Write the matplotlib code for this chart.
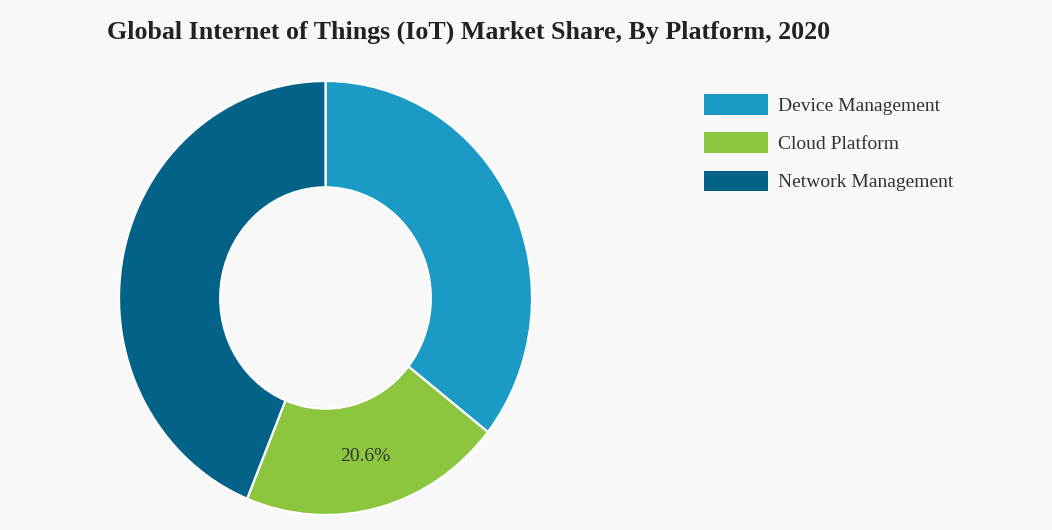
import numpy as np
import matplotlib
matplotlib.use("Agg")
import matplotlib.pyplot as plt

categories = ["Device Management", "Cloud Platform", "Network Management"]
shares = [35.6, 20.6, 43.8]
colors = ["#1a9ac4", "#8cc63f", "#036288"]
shown_labels = [False, True, False]
title = "Global Internet of Things (IoT) Market Share, By Platform, 2020"

W, H = 1052, 530
fig = plt.figure(figsize=(W / 100, H / 100), dpi=100)
fig.patch.set_facecolor("#f8f8f8")

# donut geometry (pixels)
cx, cy = 325.5, 298.0
rx, ry = 206.5, 217.0
m = 1.05
ax = fig.add_axes([(cx - rx * m) / W, (H - cy - ry * m) / H, 2 * rx * m / W, 2 * ry * m / H])
ax.set_facecolor("none")

wedges, _ = ax.pie(shares, colors=colors, startangle=90, counterclock=False,
                   radius=1.0, wedgeprops=dict(width=0.49, edgecolor="white", linewidth=1.6))
ax.set_aspect("auto")
ax.set_xlim(-m, m)
ax.set_ylim(-m, m)
ax.axis("off")

for w, v, show in zip(wedges, shares, shown_labels):
    if not show:
        continue
    ang = np.deg2rad((w.theta1 + w.theta2) / 2)
    r = 0.755
    ax.text(r * np.cos(ang), r * np.sin(ang), f"{v}%", ha="center", va="center",
            fontsize=14, family="Liberation Serif", color="#333333")

fig.text(469 / W, 1 - 32 / H, title, ha="center", va="center", fontsize=18.7,
         fontweight="bold", family="Liberation Serif", color="#222222")

leg = fig.legend(wedges, categories, loc="upper left", bbox_to_anchor=(704 / W, 1 - 94 / H),
                 frameon=False, prop=dict(family="Liberation Serif", size=14),
                 handlelength=3.3, handleheight=1.25, labelspacing=0.9, handletextpad=0.5,
                 borderaxespad=0, borderpad=0)
for t in leg.get_texts():
    t.set_color("#333333")
for h in leg.legend_handles:
    h.set_linewidth(0)

fig.savefig("out.png", dpi=100, facecolor=fig.get_facecolor())
